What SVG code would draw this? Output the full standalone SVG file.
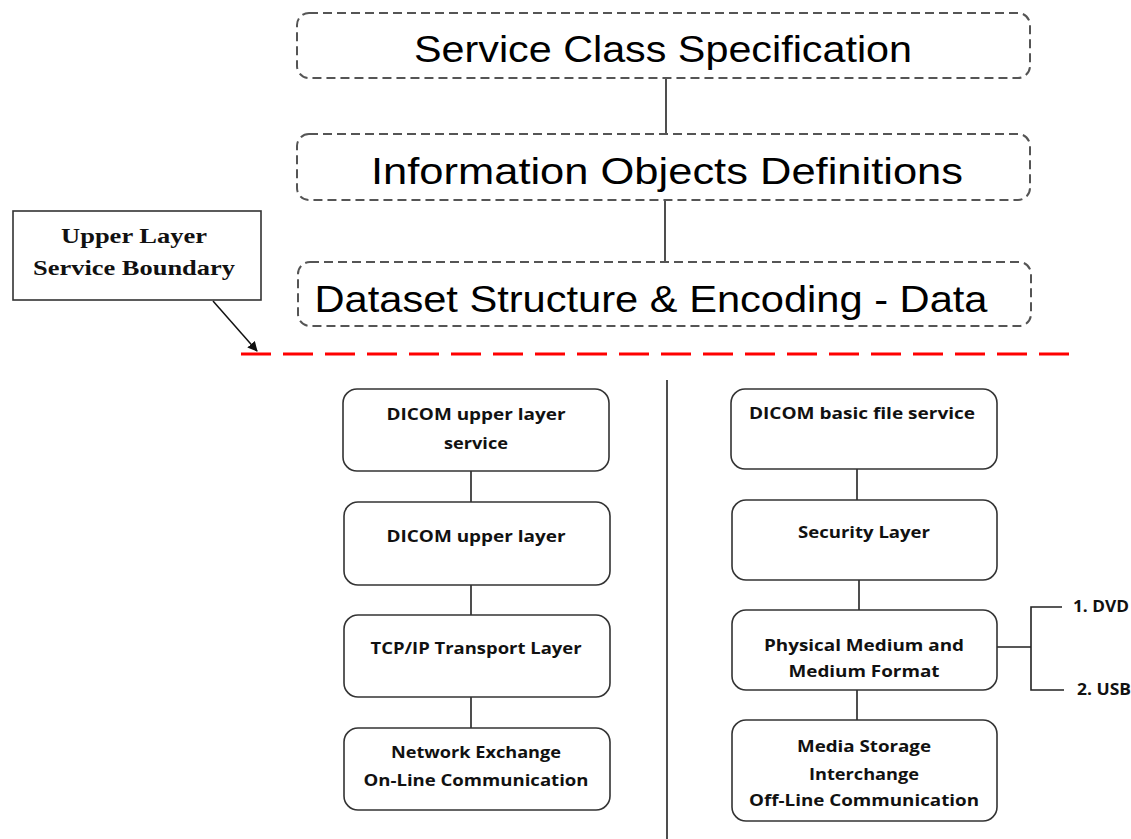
<svg xmlns="http://www.w3.org/2000/svg" width="1131" height="839" viewBox="0 0 1131 839">
<defs>
<style>
.dash{fill:#fff;stroke:#555;stroke-width:2;stroke-dasharray:9 5}
.box{fill:#fff;stroke:#333;stroke-width:1.6}
.big{font-family:"Liberation Sans",Arial,sans-serif;font-size:37px;fill:#000;text-anchor:middle}
.sm{font-family:"Open Sans","Liberation Sans",sans-serif;font-weight:bold;font-size:16px;fill:#111;text-anchor:middle}
.ser{font-family:"Liberation Serif","Times New Roman",serif;font-weight:bold;font-size:21px;fill:#111;text-anchor:middle}
.ln{stroke:#222;stroke-width:1.6;fill:none}
</style>
<marker id="ah" viewBox="0 0 10 10" refX="9" refY="5" markerWidth="10" markerHeight="10" orient="auto" markerUnits="userSpaceOnUse">
<path d="M0,0 L10,5 L0,10 z" fill="#111"/>
</marker>
</defs>
<rect width="1131" height="839" fill="#fff"/>

<g id="connectors">
<line class="ln" x1="666" y1="78" x2="666" y2="133"/>
<line class="ln" x1="665" y1="200" x2="665" y2="262"/>
<line x1="241" y1="354" x2="1070" y2="354" stroke="#f00" stroke-width="3" stroke-dasharray="30 12"/>
<line x1="213" y1="301" x2="257" y2="351" stroke="#111" stroke-width="1.5" marker-end="url(#ah)"/>
<line class="ln" x1="667" y1="380" x2="667" y2="839"/>
<line class="ln" x1="471" y1="471" x2="471" y2="502"/>
<line class="ln" x1="471" y1="585" x2="471" y2="615"/>
<line class="ln" x1="471" y1="697" x2="471" y2="728"/>
<line class="ln" x1="857" y1="469" x2="857" y2="500"/>
<line class="ln" x1="859" y1="580" x2="859" y2="610"/>
<line class="ln" x1="857" y1="690" x2="857" y2="720"/>
<path class="ln" d="M997,647 H1031 M1062,607 H1031 V690 H1064"/>
</g>

<g id="n-service-class">
<rect class="dash" x="297" y="13" width="733" height="65" rx="12"/>
<text class="big" x="663" y="62" textLength="498" lengthAdjust="spacingAndGlyphs">Service Class Specification</text>
</g>
<g id="n-iod">
<rect class="dash" x="297" y="134" width="733" height="66" rx="12"/>
<text class="big" x="667" y="184" textLength="592" lengthAdjust="spacingAndGlyphs">Information Objects Definitions</text>
</g>
<g id="n-dataset">
<rect class="dash" x="298" y="262" width="733" height="64" rx="12"/>
<text class="big" x="651" y="312" textLength="673" lengthAdjust="spacingAndGlyphs">Dataset Structure &amp; Encoding - Data</text>
</g>

<g id="n-boundary">
<rect x="13" y="211" width="248" height="89" fill="#fff" stroke="#333" stroke-width="1.6"/>
<text class="ser" x="134" y="243" textLength="146" lengthAdjust="spacingAndGlyphs">Upper Layer</text>
<text class="ser" x="134" y="275" textLength="202" lengthAdjust="spacingAndGlyphs">Service Boundary</text>
</g>

<g id="n-ul-service">
<rect class="box" x="343" y="389" width="266" height="82" rx="14"/>
<text class="sm" x="476" y="420" textLength="179" lengthAdjust="spacingAndGlyphs">DICOM upper layer</text>
<text class="sm" x="476" y="449" textLength="64" lengthAdjust="spacingAndGlyphs">service</text>
</g>
<g id="n-ul">
<rect class="box" x="344" y="502" width="266" height="83" rx="14"/>
<text class="sm" x="476" y="542" textLength="179" lengthAdjust="spacingAndGlyphs">DICOM upper layer</text>
</g>
<g id="n-tcp">
<rect class="box" x="344" y="615" width="266" height="82" rx="14"/>
<text class="sm" x="476" y="654" textLength="211" lengthAdjust="spacingAndGlyphs">TCP/IP Transport Layer</text>
</g>
<g id="n-network">
<rect class="box" x="344" y="728" width="266" height="82" rx="14"/>
<text class="sm" x="476" y="758" textLength="170" lengthAdjust="spacingAndGlyphs">Network Exchange</text>
<text class="sm" x="476" y="786" textLength="225" lengthAdjust="spacingAndGlyphs">On-Line Communication</text>
</g>

<g id="n-basic-file">
<rect class="box" x="731" y="389" width="266" height="80" rx="14"/>
<text class="sm" x="862" y="419" textLength="226" lengthAdjust="spacingAndGlyphs">DICOM basic file service</text>
</g>
<g id="n-security">
<rect class="box" x="732" y="500" width="265" height="80" rx="14"/>
<text class="sm" x="864" y="538" textLength="132" lengthAdjust="spacingAndGlyphs">Security Layer</text>
</g>
<g id="n-physical">
<rect class="box" x="732" y="610" width="265" height="80" rx="14"/>
<text class="sm" x="864" y="651" textLength="200" lengthAdjust="spacingAndGlyphs">Physical Medium and</text>
<text class="sm" x="864" y="677" textLength="151" lengthAdjust="spacingAndGlyphs">Medium Format</text>
</g>
<g id="n-media">
<rect class="box" x="732" y="720" width="265" height="101" rx="14"/>
<text class="sm" x="864" y="752" textLength="134" lengthAdjust="spacingAndGlyphs">Media Storage</text>
<text class="sm" x="864" y="780" textLength="110" lengthAdjust="spacingAndGlyphs">Interchange</text>
<text class="sm" x="864" y="806" textLength="230" lengthAdjust="spacingAndGlyphs">Off-Line Communication</text>
</g>

<g id="n-dvd">
<text class="sm" x="1073" y="612" style="text-anchor:start" textLength="56" lengthAdjust="spacingAndGlyphs">1. DVD</text>
</g>
<g id="n-usb">
<text class="sm" x="1077" y="695" style="text-anchor:start" textLength="54" lengthAdjust="spacingAndGlyphs">2. USB</text>
</g>
</svg>
